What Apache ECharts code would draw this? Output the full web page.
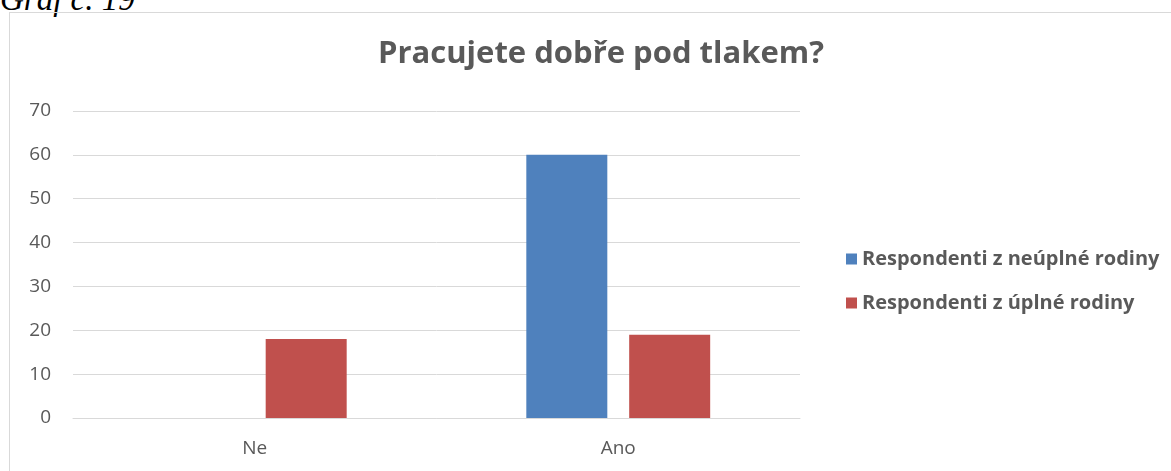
<!DOCTYPE html>
<html>
<head>
<meta charset="utf-8">
<script src="https://cdn.jsdelivr.net/npm/echarts@6/dist/echarts.min.js"></script>
<style>
  html, body { margin: 0; padding: 0; background: #fff; overflow: hidden; }
  #caption {
    position: absolute; left: 0; top: -17px; line-height: 33px;
    font-family: "Liberation Serif", serif; font-style: italic; font-size: 33px; color: #000;
  }
  #frame {
    position: absolute; left: 9px; top: 12px; width: 1200px; height: 500px;
    border: 1px solid #d9d9d9; box-sizing: border-box;
  }
  #chart { position: absolute; left: 0; top: 0; width: 1171px; height: 471px; }
</style>
</head>
<body>
<div id="caption">Graf č. 19</div>
<div id="frame"></div>
<div id="chart"></div>
<script>
  // data
  var categories = ["Ne", "Ano"];
  var neuplne = [0, 60];
  var uplne = [18, 19];
  var seriesNames = ["Respondenti z neúplné rodiny", "Respondenti z úplné rodiny"];
  var yTicks = { min: 0, max: 70, interval: 10 };

  var fontFamily = "'Open Sans', sans-serif";
  var myChart = echarts.init(document.getElementById("chart"));

  var option = {
    animation: false,
    title: {
      text: "Pracujete dobře pod tlakem?",
      left: 596,
      textAlign: "center",
      top: 34,
      textStyle: { color: "#595959", fontSize: 31, fontWeight: "bold", fontFamily: fontFamily }
    },
    legend: {
      orient: "vertical",
      left: 841,
      top: 244,
      itemWidth: 11,
      itemHeight: 11,
      itemGap: 24,
      icon: "rect",
      textStyle: { color: "#595959", fontSize: 20, fontWeight: "bold", fontFamily: fontFamily },
      data: seriesNames
    },
    grid: { left: 73, right: 371, top: 111, bottom: 53 },
    xAxis: {
      type: "category",
      data: categories,
      axisLine: { show: true, lineStyle: { color: "#d9d9d9", width: 1 } },
      axisTick: { show: false },
      axisLabel: { color: "#595959", fontSize: 19, fontFamily: fontFamily, margin: 21 }
    },
    yAxis: {
      type: "value",
      min: yTicks.min,
      max: yTicks.max,
      interval: yTicks.interval,
      axisLine: { show: false },
      axisTick: { show: false },
      // 网格线
      splitLine: { lineStyle: { color: "#d9d9d9", width: 1 } },
      axisLabel: { color: "#595959", fontSize: 19, fontFamily: fontFamily, margin: 22 }
    },
    series: [
      {
        name: seriesNames[0],
        type: "bar",
        data: neuplne,
        barWidth: 81,
        barGap: "27%",
        itemStyle: { color: "#4f81bd" }
      },
      {
        name: seriesNames[1],
        type: "bar",
        data: uplne,
        barWidth: 81,
        barGap: "27%",
        itemStyle: { color: "#c0504d" }
      }
    ]
  };

  myChart.setOption(option);
</script>
</body>
</html>
